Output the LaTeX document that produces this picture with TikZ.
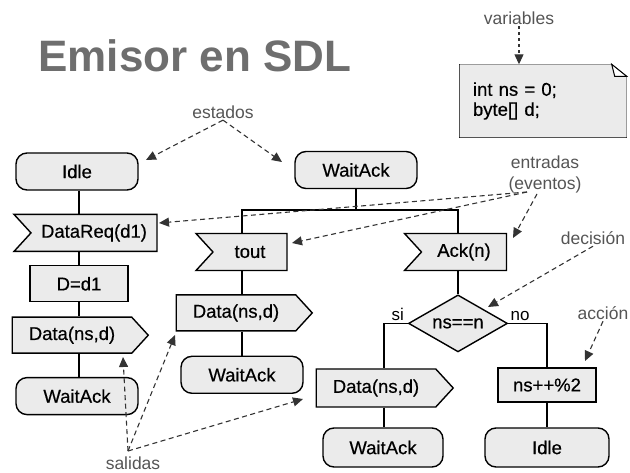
\documentclass[tikz,border=0pt]{standalone}
\usepackage{fontspec}
\setmainfont{Liberation Sans}
\newfontfamily\boxfont{Liberation Sans}[FakeBold=0.5]
\usetikzlibrary{shapes.geometric,shapes.symbols,arrows.meta,positioning,calc,backgrounds}
\definecolor{boxgray}{HTML}{EBEBEB}
\definecolor{titlegray}{HTML}{6E6E6E}
\definecolor{notegray}{HTML}{555555}

\begin{document}
\begin{tikzpicture}[
  x=1pt,y=-1pt,
  font=\boxfont\fontsize{18.5}{21}\selectfont,
  line width=1.4pt,
  state/.style ={draw,fill=boxgray,rounded corners=11pt,minimum width=122pt,
                 minimum height=37pt,inner sep=2pt},
  inp/.style   ={draw,fill=boxgray,signal,signal from=west,signal to=nowhere,
                 signal pointer angle=95,minimum height=37pt,inner sep=2pt},
  outp/.style  ={draw,fill=boxgray,signal,signal to=east,signal from=nowhere,
                 signal pointer angle=95,minimum height=36pt,inner sep=2pt},
  task/.style  ={draw,fill=boxgray,minimum width=98pt,minimum height=36pt,inner sep=2pt},
  dec/.style   ={draw,fill=boxgray,diamond,aspect=1.7,minimum width=99pt,
                 minimum height=57pt,inner sep=0pt},
  lbl/.style   ={text=notegray,font=\normalfont\fontsize{17.5}{21}\selectfont,inner sep=1pt},
  br/.style    ={font=\fontsize{17}{19}\selectfont,inner sep=1pt},
  ann/.style   ={draw=black!80,line width=1.1pt,dash pattern=on 5pt off 3.5pt,
                 -{Triangle[length=10pt,width=9pt]}},
  ]
\useasboundingbox (0,0) rectangle (630,473);

% connector columns
\coordinate (colL) at (79,0);
\coordinate (colM) at (242,0);
\coordinate (colR) at (458,0);
\coordinate (colS) at (384,0);
\coordinate (colN) at (547,0);

%---------------- title and variables ----------------
\node[text=titlegray,font=\normalfont\fontsize{44}{48}\selectfont\bfseries,anchor=base] (title)
  at (195,72) {Emisor en SDL};
\node[minimum width=166pt,minimum height=72pt,text width=140pt,align=left,
      inner sep=0pt,font=\boxfont\fontsize{18.5}{20}\selectfont] (vars) at (543,101)
  {int ns = 0;\\byte[] d;};
\begin{scope}[on background layer]
\draw[fill=boxgray] (vars.north west) -- ($(vars.north east)+(-15,0)$)
  -- ($(vars.north east)+(0,12)$) -- (vars.south east) -- (vars.south west) -- cycle;
\draw[fill=white,line width=1pt] ($(vars.north east)+(-15,0)$) -- ($(vars.north east)+(-12,12)$)
  -- ($(vars.north east)+(0,12)$) -- cycle;
\end{scope}

%---------------- left column : Idle ----------------
\node[state] (idle0) at (77,171.5) {Idle};
\node[inp, below=23pt of idle0, minimum width=143pt, xshift=17pt] (dreq) {DataReq(d1)};
\node[task, below=13pt of dreq, xshift=-15pt] (setd) {D=d1};
\node[outp, below=14pt of setd, minimum width=136pt, xshift=-7pt] (out1) {Data(ns,d)};
\node[state, below=23pt of out1, xshift=5pt] (wait1) {WaitAck};
\draw (colL |- idle0.south) -- (colL |- dreq.north);
\draw (colL |- dreq.south) -- (colL |- setd.north);
\draw (colL |- setd.south) -- (colL |- out1.north);
\draw (colL |- out1.south) -- (colL |- wait1.north);

%---------------- WaitAck ----------------
\node[state] (wait0) at (356,170) {WaitAck};
\node[inp, minimum width=91pt] (tout) at (250,252) {tout};
\node[outp, below=23pt of tout, minimum width=136pt, xshift=-14pt] (out2) {Data(ns,d)};
\node[state, below=24pt of out2, xshift=6pt] (wait2) {WaitAck};
\node[inp, minimum width=102pt] (ack) at (464,252) {Ack(n)};
\node[dec, below=23pt of ack, xshift=-6pt] (chk) {ns==n};
\node[outp, minimum width=137pt, minimum height=38pt] (out3) at (376,388) {Data(ns,d)};
\node[task, minimum height=34pt] (inc) at (547,385) {ns++\%2};
\node[state, minimum height=39pt, minimum width=120pt] (wait3) at (383,447.5) {WaitAck};
\node[state, minimum height=39pt, minimum width=124pt] (idle1) at (547,447.5) {Idle};
\draw (wait0.south) -- ++(0,21) coordinate (fork);
\draw (colM |- tout.north) |- (fork) -| (colR |- ack.north);
\draw (colM |- tout.south) -- (colM |- out2.north);
\draw (colM |- out2.south) -- (colM |- wait2.north);
\draw (colR |- ack.south) -- (chk.north);
\draw (chk.west) -| (colS |- out3.north);
\draw (chk.east) -| (colN |- inc.north);
\draw (colS |- out3.south) -- (colS |- wait3.north);
\draw (inc.south) -- (idle1.north);
\node[br, anchor=south] at ($(chk.west)+(-10,-1)$) {si};
\node[br, anchor=south] at ($(chk.east)+(12,-1)$) {no};

%---------------- annotations ----------------
\node[lbl] (lvar) at (519,18) {variables};
\node[lbl] (lest) at (223,112) {estados};
\node[lbl, align=center] (lent) at (545,174) {entradas\\(eventos)};
\node[lbl] (ldec) at (593,238) {decisión};
\node[lbl] (lacc) at (603,313) {acción};
\node[lbl] (lsal) at (133,463) {salidas};

\coordinate (tEst1) at (146,160);
\coordinate (tEst2) at (282,162);
\coordinate (tEnt1) at (159,223);
\coordinate (tEnt2) at (292,243);
\coordinate (tEnt3) at (513,238);
\coordinate (tDec) at (488,307);
\coordinate (tAcc) at (585,361);
\coordinate (tSal1) at (123,357);
\coordinate (tSal2) at (175,335);
\coordinate (tSal3) at (303,399);
\coordinate (sEnt) at (527,192);
\coordinate (sSal) at (128,451);

\draw[ann, dash pattern=on 3pt off 3pt] (lvar.south) -- (lvar.south |- vars.north);
\draw[ann] (lest.south) -- (tEst1);
\draw[ann] (lest.south) -- (tEst2);
\draw[ann] (sEnt) -- (tEnt1);
\draw[ann] (sEnt) -- (tEnt2);
\draw[ann] ($(sEnt)+(10,2)$) -- (tEnt3);
\draw[ann] (ldec.south) -- (tDec);
\draw[ann] (lacc.south) -- (tAcc);
\draw[ann] (sSal) -- (tSal1);
\draw[ann] (sSal) -- (tSal2);
\draw[ann] (sSal) -- (tSal3);

\end{tikzpicture}
\end{document}
